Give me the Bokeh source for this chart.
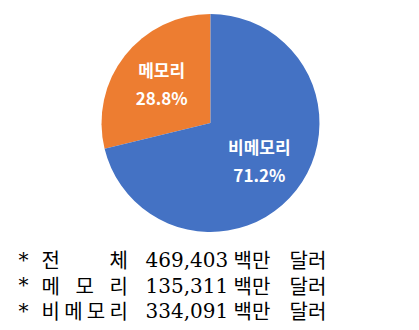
import numpy as np
from bokeh.plotting import figure
from bokeh.models import Range1d
from bokeh.core.properties import value
from bokeh.embed import file_html
from bokeh.resources import INLINE

# ---- data ----
categories = ["메모리", "비메모리"]
shares = [28.8, 71.2]
colors = ["#ED7D31", "#4472C4"]
row_labels = ["전체", "메모리", "비메모리"]
row_values = [469403, 135311, 334091]
unit_a = "백만"
unit_b = "달러"

W, H = 419, 330
p = figure(width=W, height=H, x_range=Range1d(0, W), y_range=Range1d(0, H),
           output_backend="svg", toolbar_location=None, min_border=0)
p.axis.visible = False
p.grid.visible = False
p.outline_line_color = None
p.background_fill_color = "white"
p.border_fill_color = "white"

# ---- pie ----
cx, cy, R = 210, H - 122.5, 109
frac = np.array(shares) / sum(shares)
ends = np.pi / 2 + 2 * np.pi * np.cumsum(frac)
starts = ends - 2 * np.pi * frac
p.wedge(x=cx, y=cy, radius=R, start_angle=starts, end_angle=ends,
        fill_color=colors, line_color=None)

mid = (starts + ends) / 2
lx = cx + 0.57 * R * np.cos(mid)
ly = cy + 0.57 * R * np.sin(mid)
pie_font = value("Noto Sans CJK KR")
p.text(x=lx, y=ly + 15, text=categories, text_font=pie_font, text_font_size="17px",
       text_font_style="bold", text_color="white", text_align="center", text_baseline="middle")
p.text(x=lx, y=ly - 13, text=[f"{s}%" for s in shares], text_font=pie_font,
       text_font_size="17px", text_font_style="bold", text_color="white",
       text_align="center", text_baseline="middle")

# ---- notes below ----
row_y = [H - (259 + i * 25.5) for i in range(len(row_labels))]
serif = value("DejaVu Serif, Noto Sans CJK KR")
kr = value("Noto Sans CJK KR")
kr_size = 20

p.text(x=[18] * len(row_y), y=row_y, text=["*"] * len(row_y), text_font=serif,
       text_font_size="20px", text_color="black", text_baseline="middle")

cx_list, cy_list, ch_list = [], [], []
for lab, yy in zip(row_labels, row_y):
    k = len(lab)
    step = (88 - kr_size) / (k - 1)
    for j, ch in enumerate(lab):
        cx_list.append(41 + j * step)
        cy_list.append(yy)
        ch_list.append(ch)
p.text(x=cx_list, y=cy_list, text=ch_list, text_font=kr, text_font_size=f"{kr_size}px",
       text_color="black", text_baseline="middle")

p.text(x=[145] * len(row_y), y=row_y, text=[f"{v:,}" for v in row_values], text_font=serif,
       text_font_size="20px", text_color="black", text_baseline="middle")
p.text(x=[233] * len(row_y), y=row_y, text=[unit_a] * len(row_y), text_font=kr,
       text_font_size=f"{kr_size}px", text_color="black", text_baseline="middle")
p.text(x=[289] * len(row_y), y=row_y, text=[unit_b] * len(row_y), text_font=kr,
       text_font_size=f"{kr_size}px", text_color="black", text_baseline="middle")

open("out.html", "w").write(file_html(p, INLINE))
